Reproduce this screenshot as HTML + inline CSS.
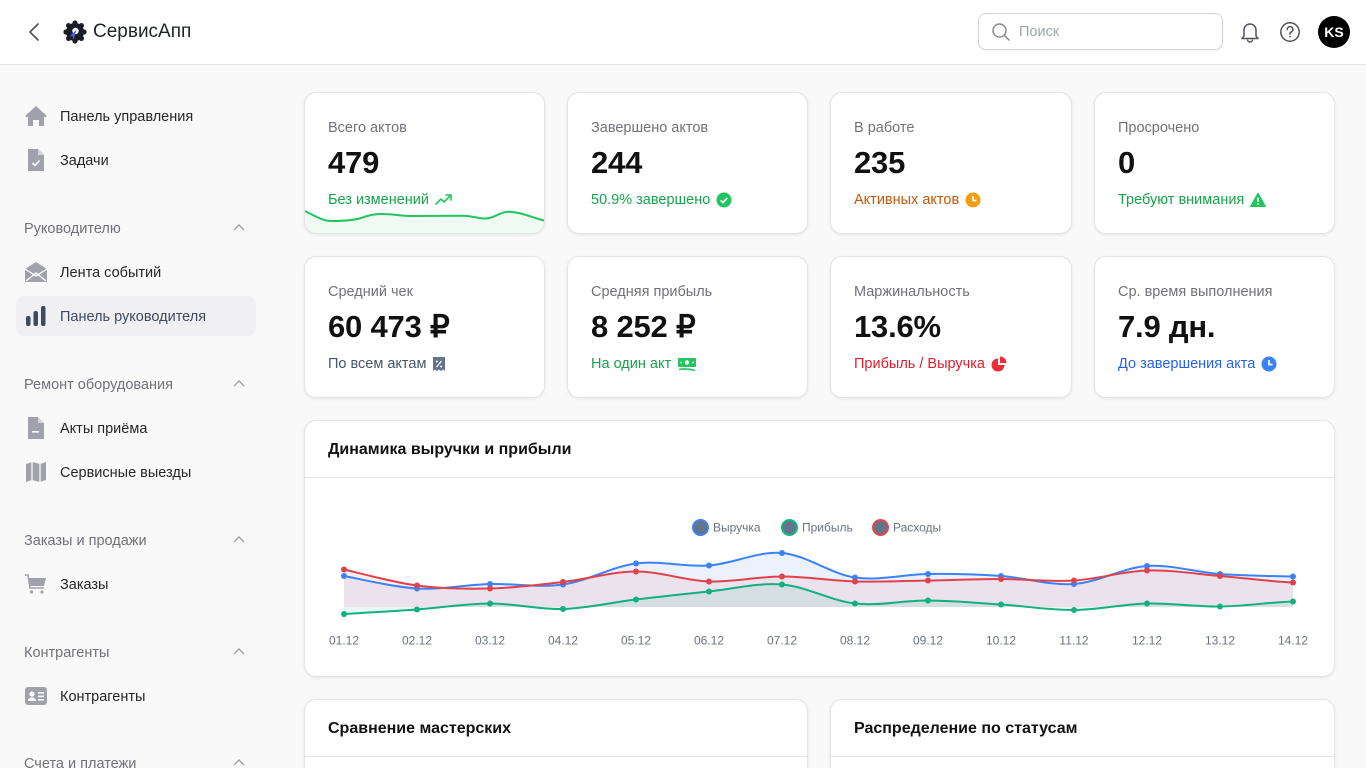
<!DOCTYPE html>
<html><head><meta charset="utf-8">
<style>
*{box-sizing:border-box;margin:0;padding:0}
html,body{width:1366px;height:768px;overflow:hidden}
body{background:#f9f9f9;font-family:"Liberation Sans","Noto Sans CJK SC",sans-serif;color:#1f2937;position:relative}
.abs{position:absolute}
.hdr{left:0;top:0;width:1366px;height:65px;background:#fff;border-bottom:1px solid #e4e4e7}
.nav{left:60px;font-size:14.5px;line-height:20px;color:#27272a;white-space:nowrap;margin-top:1px}
.sec{left:24px;font-size:14.5px;line-height:20px;color:#71717a;white-space:nowrap;margin-top:1px}
.chev{left:232px}
.ico{left:24px;width:24px;height:24px}
.card{background:#fff;border:1px solid #e4e4e7;border-radius:12px;box-shadow:0 1px 3px rgba(0,0,0,0.08);overflow:hidden}
.ct{position:absolute;left:23px;top:25px;font-size:14.5px;line-height:20px;color:#71717a;white-space:nowrap}
.cv{position:absolute;left:23px;top:50px;font-size:31px;line-height:40px;font-weight:700;color:#111;white-space:nowrap;letter-spacing:-0.2px}
.cs{position:absolute;left:23px;top:97px;font-size:14.5px;line-height:20px;white-space:nowrap;display:flex;align-items:center;gap:6px}
.h2{position:absolute;left:23px;font-size:16px;line-height:22px;font-weight:700;color:#111;white-space:nowrap}
.div{position:absolute;left:0;right:0;height:1px;background:#e4e4e7}
</style></head><body>

<!-- header -->
<div class="abs hdr"></div>
<svg class="abs" style="left:26px;top:22px" width="16" height="20" viewBox="0 0 16 20"><path d="M12 2 L4 10 L12 18" fill="none" stroke="#52525b" stroke-width="1.6" stroke-linecap="round" stroke-linejoin="round"/></svg>
<svg class="abs" style="left:63px;top:20px" width="24" height="24" viewBox="0 0 24 24">
<g fill="#1a1d23"><circle cx="12" cy="12" r="9"/>
<circle cx="12" cy="3" r="2.6"/><circle cx="12" cy="21" r="2.6"/><circle cx="3" cy="12" r="2.6"/><circle cx="21" cy="12" r="2.6"/>
<circle cx="5.6" cy="5.6" r="2.6"/><circle cx="18.4" cy="5.6" r="2.6"/><circle cx="5.6" cy="18.4" r="2.6"/><circle cx="18.4" cy="18.4" r="2.6"/></g>
<circle cx="12.5" cy="11" r="3.2" fill="#fff"/>
<path d="M13.5 9.5 L6.5 16.5 L9.5 16 L10.5 20 Z" fill="#5b5bf0"/>
</svg>
<div class="abs" style="left:93px;top:20px;font-size:19px;line-height:24px;color:#1f2328;white-space:nowrap">СервисАпп</div>

<div class="abs" style="left:978px;top:13px;width:245px;height:37px;border:1px solid #d4d4d8;border-radius:8px;background:#fff;box-shadow:0 1px 2px rgba(0,0,0,0.05)"></div>
<svg class="abs" style="left:991px;top:22px" width="20" height="20" viewBox="0 0 20 20"><circle cx="8.5" cy="8.5" r="6.5" fill="none" stroke="#8a8a93" stroke-width="1.5"/><path d="M13.3 13.3 L18 18" stroke="#8a8a93" stroke-width="1.5" stroke-linecap="round"/></svg>
<div class="abs" style="left:1019px;top:22px;font-size:14.5px;line-height:20px;color:#9ca3af">Поиск</div>
<svg class="abs" style="left:1239px;top:20px" width="22" height="24" viewBox="0 0 22 24"><path d="M5 16 V10 a6 6 0 0 1 12 0 V16 L19 18.5 H3 Z" fill="none" stroke="#52525b" stroke-width="1.5" stroke-linejoin="round"/><path d="M8.5 19.5 a2.5 2.5 0 0 0 5 0" fill="none" stroke="#52525b" stroke-width="1.5"/></svg>
<svg class="abs" style="left:1279px;top:21px" width="22" height="22" viewBox="0 0 22 22"><circle cx="11" cy="11" r="9.2" fill="none" stroke="#52525b" stroke-width="1.5"/><path d="M8.3 8.5 a2.8 2.8 0 1 1 3.9 2.5 c-0.9 0.4 -1.2 1 -1.2 2" fill="none" stroke="#52525b" stroke-width="1.5" stroke-linecap="round"/><circle cx="11" cy="15.6" r="0.9" fill="#52525b"/></svg>
<div class="abs" style="left:1318px;top:16px;width:32px;height:32px;border-radius:50%;background:#000;color:#fff;font-size:14px;font-weight:700;line-height:32px;text-align:center">KS</div>

<!-- sidebar -->
<div class="abs" style="left:16px;top:296px;width:240px;height:40px;background:#f0f0f2;border-radius:8px"></div>

<svg class="abs ico" style="top:104px" viewBox="0 0 24 24"><path d="M12 2 L23 12 L21 13.5 L20 12.7 V22 H15 V16 H9 V22 H4 V12.7 L3 13.5 L1 12 Z" fill="#a1a1aa"/></svg>
<div class="abs nav" style="top:106px">Панель управления</div>
<svg class="abs ico" style="top:148px" viewBox="0 0 24 24"><path d="M4 1 H14 L20 7 V23 H4 Z" fill="#a1a1aa"/><path d="M14 1 V7 H20" fill="#d4d4d8"/><path d="M8.5 15 L11 17.5 L15.5 12.5" fill="none" stroke="#fff" stroke-width="1.6"/></svg>
<div class="abs nav" style="top:150px">Задачи</div>

<div class="abs sec" style="top:218px">Руководителю</div>
<svg class="abs chev" style="top:221px" width="14" height="14" viewBox="0 0 14 14"><path d="M2 9 L7 4 L12 9" fill="none" stroke="#a1a1aa" stroke-width="1.4"/></svg>
<svg class="abs ico" style="top:260px" viewBox="0 0 24 24"><path d="M1 9 L12 2 L23 9 V22 H1 Z" fill="#a1a1aa"/><path d="M2 21 L12 13 L22 21 M1 9 L12 16 L23 9" fill="none" stroke="#fff" stroke-width="1.3"/></svg>
<div class="abs nav" style="top:262px">Лента событий</div>
<svg class="abs ico" style="top:304px" viewBox="0 0 24 24"><rect x="2" y="12" width="4.5" height="10" rx="2" fill="#3f4a5e"/><rect x="9.5" y="7" width="4.5" height="15" rx="2" fill="#3f4a5e"/><rect x="17" y="2" width="4.5" height="20" rx="2" fill="#3f4a5e"/></svg>
<div class="abs nav" style="top:306px;color:#3f4a5e">Панель руководителя</div>

<div class="abs sec" style="top:374px">Ремонт оборудования</div>
<svg class="abs chev" style="top:377px" width="14" height="14" viewBox="0 0 14 14"><path d="M2 9 L7 4 L12 9" fill="none" stroke="#a1a1aa" stroke-width="1.4"/></svg>
<svg class="abs ico" style="top:416px" viewBox="0 0 24 24"><path d="M4 1 H14 L20 7 V23 H4 Z" fill="#a1a1aa"/><path d="M14 1 V7 H20" fill="#d4d4d8"/><rect x="8" y="15" width="7" height="1.6" fill="#fff"/></svg>
<div class="abs nav" style="top:418px">Акты приёма</div>
<svg class="abs ico" style="top:460px" viewBox="0 0 24 24"><path d="M2 4 L8 2 L16 4 L22 2 V20 L16 22 L8 20 L2 22 Z" fill="#a1a1aa"/><path d="M8 2 V20 M16 4 V22" stroke="#fff" stroke-width="1.3"/></svg>
<div class="abs nav" style="top:462px">Сервисные выезды</div>

<div class="abs sec" style="top:530px">Заказы и продажи</div>
<svg class="abs chev" style="top:533px" width="14" height="14" viewBox="0 0 14 14"><path d="M2 9 L7 4 L12 9" fill="none" stroke="#a1a1aa" stroke-width="1.4"/></svg>
<svg class="abs ico" style="top:572px" viewBox="0 0 24 24"><path d="M1 3 H4 L6 16 H20" fill="none" stroke="#a1a1aa" stroke-width="1.6"/><path d="M5 6 H22 L20 14 H6.5 Z" fill="#a1a1aa"/><circle cx="7.5" cy="20" r="1.6" fill="#a1a1aa"/><circle cx="18" cy="20" r="1.6" fill="#a1a1aa"/></svg>
<div class="abs nav" style="top:574px">Заказы</div>

<div class="abs sec" style="top:642px">Контрагенты</div>
<svg class="abs chev" style="top:645px" width="14" height="14" viewBox="0 0 14 14"><path d="M2 9 L7 4 L12 9" fill="none" stroke="#a1a1aa" stroke-width="1.4"/></svg>
<svg class="abs ico" style="top:684px" viewBox="0 0 24 24"><rect x="1" y="3" width="22" height="18" rx="3" fill="#a1a1aa"/><circle cx="8" cy="10" r="2.6" fill="#fff"/><path d="M3.8 17 a4.2 3.6 0 0 1 8.4 0 Z" fill="#fff"/><rect x="14" y="8" width="6" height="1.6" fill="#fff"/><rect x="14" y="11.5" width="6" height="1.6" fill="#fff"/><rect x="14" y="15" width="6" height="1.6" fill="#fff"/></svg>
<div class="abs nav" style="top:686px">Контрагенты</div>

<div class="abs sec" style="top:753px">Счета и платежи</div>
<svg class="abs chev" style="top:756px" width="14" height="14" viewBox="0 0 14 14"><path d="M2 9 L7 4 L12 9" fill="none" stroke="#a1a1aa" stroke-width="1.4"/></svg>

<!-- KPI row 1 -->
<div class="abs card" style="left:304px;top:92px;width:241px;height:142px">
  <svg class="abs" style="left:0;top:0" width="241" height="142" viewBox="0 0 241 142">
    <path d="M0,118 C12,124 18,128 26,128 C40,128 50,127 56,125 C64,122 70,121 76,121 C90,121 96,123 106,123 L156,122.7 C168,122.5 174,126 181,125.5 C190,125 195,118.7 203,118.7 C215,118.7 225,124 241,128 L241,142 L0,142 Z" fill="#22c55e" fill-opacity="0.08"/>
    <path d="M0,118 C12,124 18,128 26,128 C40,128 50,127 56,125 C64,122 70,121 76,121 C90,121 96,123 106,123 L156,122.7 C168,122.5 174,126 181,125.5 C190,125 195,118.7 203,118.7 C215,118.7 225,124 241,128" fill="none" stroke="#22c55e" stroke-width="2"/>
  </svg>
  <div class="ct">Всего актов</div>
  <div class="cv">479</div>
  <div class="cs" style="color:#16a34a">Без изменений <svg width="18" height="14" viewBox="0 0 18 14"><path d="M1 11 L6 6 L9 9 L16 2 M11 2 H16 V7" fill="none" stroke="#22c55e" stroke-width="1.6" stroke-linecap="round" stroke-linejoin="round"/></svg></div>
</div>
<div class="abs card" style="left:567px;top:92px;width:241px;height:142px">
  <div class="ct">Завершено актов</div>
  <div class="cv">244</div>
  <div class="cs" style="color:#16a34a">50.9% завершено <svg width="16" height="16" viewBox="0 0 16 16"><circle cx="8" cy="8" r="7.5" fill="#22c55e"/><path d="M4.6 8.2 L7 10.5 L11.4 5.8" fill="none" stroke="#fff" stroke-width="1.7"/></svg></div>
</div>
<div class="abs card" style="left:830px;top:92px;width:242px;height:142px">
  <div class="ct">В работе</div>
  <div class="cv">235</div>
  <div class="cs" style="color:#c2570c">Активных актов <svg width="16" height="16" viewBox="0 0 16 16"><circle cx="8" cy="8" r="7.5" fill="#f59e0b"/><path d="M8 4 V8.5 H11.5" fill="none" stroke="#fff" stroke-width="1.7"/></svg></div>
</div>
<div class="abs card" style="left:1094px;top:92px;width:241px;height:142px">
  <div class="ct">Просрочено</div>
  <div class="cv">0</div>
  <div class="cs" style="color:#16a34a">Требуют внимания <svg width="16" height="16" viewBox="0 0 16 16"><path d="M8 1 L15.5 14.5 H0.5 Z" fill="#22c55e" stroke="#22c55e" stroke-linejoin="round"/><rect x="7.2" y="5.5" width="1.6" height="4.5" fill="#fff"/><rect x="7.2" y="11.2" width="1.6" height="1.6" fill="#fff"/></svg></div>
</div>

<!-- KPI row 2 -->
<div class="abs card" style="left:304px;top:256px;width:241px;height:142px">
  <div class="ct">Средний чек</div>
  <div class="cv">60 473 ₽</div>
  <div class="cs" style="color:#475569">По всем актам <svg width="14" height="16" viewBox="0 0 14 16"><path d="M1 1 H13 V15 L11 13.5 L9 15 L7 13.5 L5 15 L3 13.5 L1 15 Z" fill="#64748b"/><path d="M4.5 11 L9.5 5" stroke="#fff" stroke-width="1.3"/><circle cx="4.8" cy="5.5" r="1" fill="#fff"/><circle cx="9.2" cy="10.5" r="1" fill="#fff"/></svg></div>
</div>
<div class="abs card" style="left:567px;top:256px;width:241px;height:142px">
  <div class="ct">Средняя прибыль</div>
  <div class="cv">8 252 ₽</div>
  <div class="cs" style="color:#16a34a">На один акт <svg width="20" height="16" viewBox="0 0 20 16"><rect x="1" y="2" width="18" height="9" rx="1" fill="#22c55e"/><circle cx="10" cy="6.5" r="2.2" fill="#fff"/><circle cx="4" cy="6.5" r="0.9" fill="#fff"/><circle cx="16" cy="6.5" r="0.9" fill="#fff"/><path d="M2 13.5 Q10 12 18 14.5" fill="none" stroke="#22c55e" stroke-width="1.5"/></svg></div>
</div>
<div class="abs card" style="left:830px;top:256px;width:242px;height:142px">
  <div class="ct">Маржинальность</div>
  <div class="cv">13.6%</div>
  <div class="cs" style="color:#e11d2a">Прибыль / Выручка <svg width="16" height="16" viewBox="0 0 16 16"><path d="M7 2.5 A6.5 6.5 0 1 0 13.5 9 H7 Z" fill="#ef2b3a"/><path d="M9 0.5 A6.5 6.5 0 0 1 15.5 7 H9 Z" fill="#ef2b3a"/></svg></div>
</div>
<div class="abs card" style="left:1094px;top:256px;width:241px;height:142px">
  <div class="ct">Ср. время выполнения</div>
  <div class="cv">7.9 дн.</div>
  <div class="cs" style="color:#2563eb">До завершения акта <svg width="16" height="16" viewBox="0 0 16 16"><circle cx="8" cy="8" r="7.5" fill="#3b82f6"/><path d="M8 4 V8.5 H11.5" fill="none" stroke="#fff" stroke-width="1.7"/></svg></div>
</div>

<!-- Chart card -->
<div class="abs card" style="left:304px;top:420px;width:1031px;height:257px">
  <div class="h2" style="top:18px">Динамика выручки и прибыли</div>
  <div class="div" style="top:56px"></div>
</div>

<svg class="abs" style="left:0;top:0" width="1366" height="768" viewBox="0 0 1366 768">
  <path d="M344,576 C356.2,578.1 392.7,587.2 417,588.5 S465.7,584.7 490,584 S538.7,587.9 563,584.5 S611.7,566.7 636,563.5 S684.7,567.3 709,565.5 S757.7,551 782,553 S830.7,574 855,577.5 S903.7,574.3 928,574 S976.7,574.3 1001,576 S1049.7,585.7 1074,584 S1122.7,567.7 1147,566 S1195.7,572.3 1220,574 S1268.7,576.1 1293,576.5 L1293,607 L344,607 Z" fill="#3b82f6" fill-opacity="0.1"/>
  <path d="M344,569.5 C356.2,572.2 392.7,582.3 417,585.5 S465.7,589.1 490,588.5 S538.7,584.8 563,582 S611.7,571.6 636,571.5 S684.7,580.7 709,581.5 S757.7,576.5 782,576.5 S830.7,580.8 855,581.5 S903.7,580.9 928,580.5 S976.7,579 1001,579 S1049.7,581.9 1074,580.5 S1122.7,571.3 1147,570.5 S1195.7,574 1220,576 S1268.7,581.4 1293,582.5 L1293,607 L344,607 Z" fill="#ef4444" fill-opacity="0.09"/>
  <path d="M344,614 C356.2,613.25 392.7,611.3 417,609.5 S465.7,603.6 490,603.5 S538.7,609.7 563,609 S611.7,602.4 636,599.5 S684.7,594 709,591.5 S757.7,582.5 782,584.5 S830.7,600.8 855,603.5 S903.7,600.3 928,600.5 S976.7,602.9 1001,604.5 S1049.7,610.2 1074,610 S1122.7,604.1 1147,603.5 S1195.7,606.8 1220,606.5 S1268.7,602.3 1293,601.5 L1293,607 L344,607 Z" fill="#10b981" fill-opacity="0.1"/>
  <path d="M344,576 C356.2,578.1 392.7,587.2 417,588.5 S465.7,584.7 490,584 S538.7,587.9 563,584.5 S611.7,566.7 636,563.5 S684.7,567.3 709,565.5 S757.7,551 782,553 S830.7,574 855,577.5 S903.7,574.3 928,574 S976.7,574.3 1001,576 S1049.7,585.7 1074,584 S1122.7,567.7 1147,566 S1195.7,572.3 1220,574 S1268.7,576.1 1293,576.5" fill="none" stroke="#3b82f6" stroke-width="2"/>
  <path d="M344,569.5 C356.2,572.2 392.7,582.3 417,585.5 S465.7,589.1 490,588.5 S538.7,584.8 563,582 S611.7,571.6 636,571.5 S684.7,580.7 709,581.5 S757.7,576.5 782,576.5 S830.7,580.8 855,581.5 S903.7,580.9 928,580.5 S976.7,579 1001,579 S1049.7,581.9 1074,580.5 S1122.7,571.3 1147,570.5 S1195.7,574 1220,576 S1268.7,581.4 1293,582.5" fill="none" stroke="#e0424b" stroke-width="2"/>
  <path d="M344,614 C356.2,613.25 392.7,611.3 417,609.5 S465.7,603.6 490,603.5 S538.7,609.7 563,609 S611.7,602.4 636,599.5 S684.7,594 709,591.5 S757.7,582.5 782,584.5 S830.7,600.8 855,603.5 S903.7,600.3 928,600.5 S976.7,602.9 1001,604.5 S1049.7,610.2 1074,610 S1122.7,604.1 1147,603.5 S1195.7,606.8 1220,606.5 S1268.7,602.3 1293,601.5" fill="none" stroke="#10b07f" stroke-width="2"/>
  <g fill="#3b82f6">
    <circle cx="344" cy="576" r="3"/><circle cx="417" cy="588.5" r="3"/><circle cx="490" cy="584" r="3"/><circle cx="563" cy="584.5" r="3"/><circle cx="636" cy="563.5" r="3"/><circle cx="709" cy="565.5" r="3"/><circle cx="782" cy="553" r="3"/><circle cx="855" cy="577.5" r="3"/><circle cx="928" cy="574" r="3"/><circle cx="1001" cy="576" r="3"/><circle cx="1074" cy="584" r="3"/><circle cx="1147" cy="566" r="3"/><circle cx="1220" cy="574" r="3"/><circle cx="1293" cy="576.5" r="3"/>
  </g>
  <g fill="#e0424b">
    <circle cx="344" cy="569.5" r="3"/><circle cx="417" cy="585.5" r="3"/><circle cx="490" cy="588.5" r="3"/><circle cx="563" cy="582" r="3"/><circle cx="636" cy="571.5" r="3"/><circle cx="709" cy="581.5" r="3"/><circle cx="782" cy="576.5" r="3"/><circle cx="855" cy="581.5" r="3"/><circle cx="928" cy="580.5" r="3"/><circle cx="1001" cy="579" r="3"/><circle cx="1074" cy="580.5" r="3"/><circle cx="1147" cy="570.5" r="3"/><circle cx="1220" cy="576" r="3"/><circle cx="1293" cy="582.5" r="3"/>
  </g>
  <g fill="#10b07f">
    <circle cx="344" cy="614" r="3"/><circle cx="417" cy="609.5" r="3"/><circle cx="490" cy="603.5" r="3"/><circle cx="563" cy="609" r="3"/><circle cx="636" cy="599.5" r="3"/><circle cx="709" cy="591.5" r="3"/><circle cx="782" cy="584.5" r="3"/><circle cx="855" cy="603.5" r="3"/><circle cx="928" cy="600.5" r="3"/><circle cx="1001" cy="604.5" r="3"/><circle cx="1074" cy="610" r="3"/><circle cx="1147" cy="603.5" r="3"/><circle cx="1220" cy="606.5" r="3"/><circle cx="1293" cy="601.5" r="3"/>
  </g>
  <g font-family="Liberation Sans, sans-serif" font-size="12" fill="#6b7280">
    <circle cx="700.5" cy="527.5" r="7.5" fill="#64748b" stroke="#3b82f6" stroke-width="2"/>
    <text x="713" y="531.5">Выручка</text>
    <circle cx="789.5" cy="527.5" r="7.5" fill="#64748b" stroke="#10b981" stroke-width="2"/>
    <text x="802" y="531.5">Прибыль</text>
    <circle cx="880.5" cy="527.5" r="7.5" fill="#64748b" stroke="#ef4444" stroke-width="2"/>
    <text x="893" y="531.5">Расходы</text>
  </g>
  <g font-family="Liberation Sans, sans-serif" font-size="12" fill="#6b7280" text-anchor="middle">
    <text x="344" y="644.5">01.12</text><text x="417" y="644.5">02.12</text><text x="490" y="644.5">03.12</text><text x="563" y="644.5">04.12</text><text x="636" y="644.5">05.12</text><text x="709" y="644.5">06.12</text><text x="782" y="644.5">07.12</text><text x="855" y="644.5">08.12</text><text x="928" y="644.5">09.12</text><text x="1001" y="644.5">10.12</text><text x="1074" y="644.5">11.12</text><text x="1147" y="644.5">12.12</text><text x="1220" y="644.5">13.12</text><text x="1293" y="644.5">14.12</text>
  </g>
</svg>

<!-- bottom cards -->
<div class="abs card" style="left:304px;top:699px;width:504px;height:100px">
  <div class="h2" style="top:18px">Сравнение мастерских</div>
  <div class="div" style="top:56px"></div>
</div>
<div class="abs card" style="left:830px;top:699px;width:505px;height:100px">
  <div class="h2" style="top:18px">Распределение по статусам</div>
  <div class="div" style="top:56px"></div>
</div>

</body></html>
